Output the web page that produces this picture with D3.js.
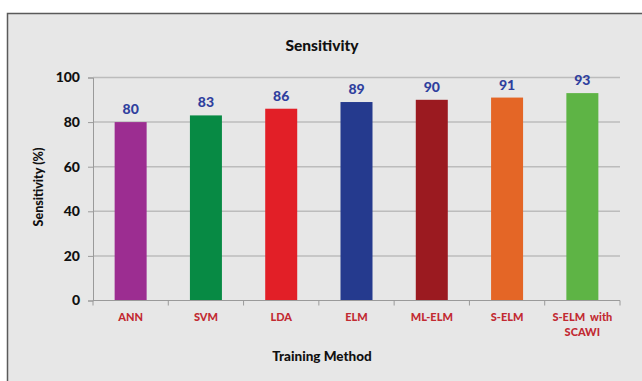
<!DOCTYPE html>
<html>
<head>
<meta charset="utf-8">
<script src="https://cdn.jsdelivr.net/npm/d3@7/dist/d3.min.js"></script>
<style>
  html, body { margin: 0; padding: 0; background: #ffffff; }
  svg { display: block; font-family: Lato, "Open Sans", sans-serif; }
</style>
</head>
<body>
<svg id="chart" width="642" height="381"></svg>
<script>
// Sensitivity of each training method
const methods = ["ANN", "SVM", "LDA", "ELM", "ML-ELM", "S-ELM", "S-ELM  with SCAWI"];
const sensitivity = [80, 83, 86, 89, 90, 91, 93];
const barColors = ["#9c2d91", "#078a44", "#e21f27", "#253a8e", "#9b1a20", "#e46626", "#5eb445"];
const yTicks = [0, 20, 40, 60, 80, 100];

const svg = d3.select("#chart");

// panel background and frame
svg.append("rect")
  .attr("x", 7.5).attr("y", 13.5)
  .attr("width", 660).attr("height", 400)
  .attr("fill", "#e7e7e7")
  .attr("stroke", "#5a5a5a")
  .attr("stroke-width", 1.5);

const plot = { left: 93, right: 620, top: 77.5, bottom: 300.5 };

const x = d3.scaleBand()
  .domain(methods)
  .range([plot.left, plot.right])
  .paddingInner(0.575)
  .paddingOuter(0.2875);

const y = d3.scaleLinear()
  .domain([0, 100])
  .range([plot.bottom, plot.top]);

// horizontal gridlines
svg.append("g")
  .selectAll("line")
  .data(yTicks.filter(d => d > 0))
  .join("line")
  .attr("x1", plot.left).attr("x2", plot.right)
  .attr("y1", d => y(d)).attr("y2", d => y(d))
  .attr("stroke", "#bcbcbc")
  .attr("stroke-width", 1.5);

// y axis
const yAxis = svg.append("g")
  .attr("transform", `translate(${plot.left},0)`)
  .call(d3.axisLeft(y).tickValues(yTicks).tickSize(5).tickPadding(8));
yAxis.select(".domain").attr("stroke", "#9a9a9a");
yAxis.selectAll(".tick line").attr("stroke", "#9a9a9a");
yAxis.selectAll(".tick text")
  .attr("fill", "#111")
  .attr("font-size", 14)
  .attr("font-weight", 900)
  .attr("font-family", "Lato, sans-serif");

// bars
svg.append("g")
  .selectAll("rect")
  .data(methods)
  .join("rect")
  .attr("x", d => x(d))
  .attr("y", (d, i) => y(sensitivity[i]))
  .attr("width", x.bandwidth())
  .attr("height", (d, i) => y(0) - y(sensitivity[i]))
  .attr("fill", (d, i) => barColors[i]);

// x axis with tick marks between categories
const xg = svg.append("g").attr("transform", `translate(0,${plot.bottom})`);
xg.append("line")
  .attr("x1", plot.left).attr("x2", plot.right)
  .attr("stroke", "#9a9a9a").attr("stroke-width", 1.2);
const step = x.step();
xg.selectAll("line.sep")
  .data(d3.range(methods.length + 1))
  .join("line")
  .attr("class", "sep")
  .attr("x1", i => plot.left + i * step)
  .attr("x2", i => plot.left + i * step)
  .attr("y1", 0).attr("y2", 5)
  .attr("stroke", "#9a9a9a");

// category labels
const catLabels = svg.append("g")
  .selectAll("text")
  .data(methods)
  .join("text")
  .attr("x", d => x(d) + x.bandwidth() / 2)
  .attr("y", 320.5)
  .attr("text-anchor", "middle")
  .attr("fill", "#c22a32")
  .attr("font-size", 11)
  .attr("font-weight", 900);
catLabels.each(function (d) {
  const t = d3.select(this);
  const parts = d.includes("SCAWI") ? ["S-ELM  with", "SCAWI"] : [d];
  parts.forEach((p, k) => {
    t.append("tspan")
      .attr("x", x(d) + x.bandwidth() / 2)
      .attr("dy", k === 0 ? 0 : 15)
      .attr("xml:space", "preserve")
      .style("white-space", "pre")
      .text(p);
  });
});

// value labels
svg.append("g")
  .selectAll("text")
  .data(methods)
  .join("text")
  .attr("x", d => x(d) + x.bandwidth() / 2)
  .attr("y", (d, i) => y(sensitivity[i]) - 8)
  .attr("text-anchor", "middle")
  .attr("fill", "#2f3f9e")
  .attr("font-size", 14)
  .attr("font-weight", 900)
  .text((d, i) => sensitivity[i]);

// title
svg.append("text")
  .attr("x", 322).attr("y", 50.5)
  .attr("text-anchor", "middle")
  .attr("fill", "#111")
  .attr("font-size", 15.5)
  .attr("font-weight", 900)
  .text("Sensitivity");

// axis titles
svg.append("text")
  .attr("x", 322).attr("y", 361)
  .attr("text-anchor", "middle")
  .attr("fill", "#111")
  .attr("font-size", 13.5)
  .attr("font-weight", 900)
  .text("Training Method");

svg.append("text")
  .attr("transform", `translate(43,${(plot.top + plot.bottom) / 2 - 2}) rotate(-90)`)
  .attr("text-anchor", "middle")
  .attr("fill", "#111")
  .attr("font-size", 12.5)
  .attr("font-weight", 900)
  .text("Sensitivity (%)");
</script>
</body>
</html>
